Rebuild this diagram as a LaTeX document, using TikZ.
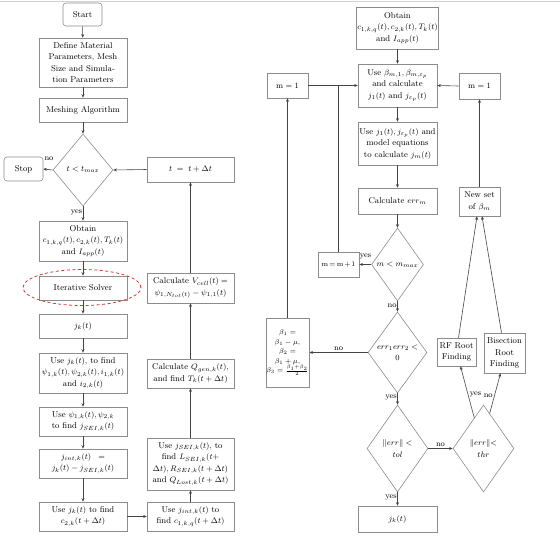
\documentclass[tikz,border=0pt]{standalone}
\usetikzlibrary{shapes.geometric,arrows.meta,calc}
\definecolor{boxc}{HTML}{8C8C8C}
\definecolor{arrc}{HTML}{444444}
\definecolor{ringc}{HTML}{D03A3A}
\begin{document}
\begin{tikzpicture}[x=1pt,y=-1pt,
  font=\fontsize{8.5}{11.5}\selectfont,
  sz/.style n args={2}{minimum width=#1, minimum height=#2},
  box/.style={draw=boxc, line width=0.6pt, rectangle, align=center, inner sep=0.5pt},
  rbox/.style={box, rounded corners=3pt},
  dia/.style={draw=boxc, line width=0.6pt, diamond, inner sep=0pt},
  txt/.style={align=center, inner sep=0pt},
  arr/.style={draw=arrc, line width=0.6pt, -{Stealth[length=3.5pt,width=3pt]}},
  ln/.style={draw=arrc, line width=0.6pt},
  lab/.style={font=\fontsize{8}{9}\selectfont, inner sep=0.5pt}]
\useasboundingbox (0,0) rectangle (560,541);
\draw[gray!35, line width=1pt] (0,1.5) -- (560,1.5);

% ---------- left column ----------
\node[rbox, sz={39}{23}] (start) at (82.5,14.5) {Start};
\node[box, sz={88}{49}] (define) at (83,62.5) {Define Material\\Parameters, Mesh\\Size and Simula-\\tion Parameters};
\node[box, sz={88}{24}] (mesh) at (83,110) {Meshing Algorithm};
\node[dia, sz={60}{72}] (d1) at (83,170) {};
\node[txt] (d1t) at (83,170) {$t < t_{max}$};
\node[rbox, sz={39}{24}] (stop) at (23.5,169) {Stop};
\node[box, sz={87}{25}] (tt) at (190.5,169.5) {$t \;=\; t+\Delta t$};
\node[box, sz={88}{40}] (obtain) at (83,241) {Obtain\\$c_{1,k,q}(t),c_{2,k}(t),T_k(t)$\\and $I_{app}(t)$};
\node[box, sz={88}{24}] (iter) at (83,288) {Iterative Solver};
\node[ellipse, draw=ringc, line width=0.8pt, dash pattern=on 3pt off 2.5pt, sz={118}{36}] (ring) at (82,287.5) {};
\node[box, sz={88}{24}] (jk) at (83,326) {$j_k(t)$};
\node[box, sz={88}{40}] (usejk) at (83,373) {Use $j_k(t)$, to find\\$\psi_{1,k}(t),\psi_{2,k}(t),i_{1,k}(t)$\\and $i_{2,k}(t)$};
\node[box, sz={88}{29}] (usepsi) at (83,421.5) {Use $\psi_{1,k}(t),\psi_{2,k}$\\to find $j_{SEI,k}(t)$};
\node[box, sz={88}{29}] (jint) at (83,463.5) {$j_{int,k}(t)\;\;=$\\$j_k(t)-j_{SEI,k}(t)$};
\node[box, sz={88}{29}] (usec2) at (83,516.5) {Use $j_k(t)$ to find\\$c_{2,k}(t+\Delta t)$};
\node[box, sz={87}{30}] (vcell) at (190.5,288) {Calculate $V_{cell}(t)=$\\$\psi_{1,N_{tot}(t)}-\psi_{1,1}(t)$};
\node[box, sz={87}{29}] (qgen) at (190.5,373.5) {Calculate $Q_{gen,k}(t)$,\\and find $T_k(t+\Delta t)$};
\node[box, sz={87}{52}] (jsei) at (190.5,464) {Use $j_{SEI,k}(t)$, to\\find $L_{SEI,k}(t+$\\$\Delta t),R_{SEI,k}(t+\Delta t)$\\and $Q_{Lost,k}(t+\Delta t)$};
\node[box, sz={87}{29}] (usec1) at (190.5,516.5) {Use $j_{int,k}(t)$ to\\find $c_{1,k,q}(t+\Delta t)$};

\draw[arr] (start) -- (define);
\draw[arr] (define) -- (mesh);
\draw[arr] (mesh) -- (d1.north);
\draw[arr] (d1.west) -- (stop.east);
\node[lab] (nostop) at (49,158.5) {no};
\draw[arr] (tt.west) -- (d1.east);
\draw[arr] (d1.south) -- (obtain.north) node[lab, pos=0.45, left] {yes};
\draw[arr] (obtain) -- (iter);
\draw[arr] (iter) -- (jk);
\draw[arr] (jk) -- (usejk);
\draw[arr] (usejk) -- (usepsi);
\draw[arr] (usepsi) -- (jint);
\draw[arr] (jint) -- (usec2);
\draw[arr] (usec2) -- (usec1);
\draw[arr] (usec1) -- (jsei);
\draw[arr] (jsei) -- (qgen);
\draw[arr] (qgen) -- (vcell);
\draw[arr] (vcell) -- (tt);

% ---------- right part ----------
\node[box, sz={79}{42}] (obtain2) at (397.5,28) {Obtain\\$c_{1,k,q}(t),c_{2,k}(t),T_k(t)$\\and $I_{app}(t)$};
\node[box, sz={79}{43}] (useb) at (397.5,85.5) {Use $\beta_{m,1},\beta_{m,\varepsilon_p}$\\and calculate\\$j_1(t)$ and $j_{\varepsilon_p}(t)$};
\node[box, sz={41}{26}] (m1r) at (479.5,86) {$\mathrm{m}=1$};
\node[box, sz={41}{25}] (m1l) at (287.5,85.5) {$\mathrm{m}=1$};
\node[box, sz={79}{43}] (usej) at (397.5,143.5) {Use $j_1(t),j_{\varepsilon_p}(t)$ and\\model equations\\to calculate $j_m(t)$};
\node[box, sz={79}{26}] (calc) at (397.5,201) {Calculate $err_m$};
\node[dia, sz={52}{73}] (d2) at (397.5,264.5) {};
\node[txt] (d2t) at (397.5,264.5) {$m<m_{max}$};
\node[box, sz={41}{25}, font=\fontsize{7.5}{9}\selectfont] (mm1) at (338.5,264.5) {$\medmuskip=2mu\thickmuskip=3mu\mathrm{m}=\mathrm{m}+1$};
\node[dia, sz={59}{81}] (d3) at (397.5,352.5) {};
\node[txt] (d3t) at (397.5,352.5) {$err_1err_2<$\\$0$};
\node[box, sz={41}{69}, font=\fontsize{7.5}{9.5}\selectfont] (beta) at (287.5,352.5) {$\beta_1=$\\$\beta_1-\mu,$\\$\beta_2=$\\$\beta_1+\mu,$\\$\beta_3=\frac{\beta_1+\beta_2}{2}$};
\node[dia, sz={61}{87}] (d4) at (397.5,448.5) {};
\node[txt] (d4t) at (397.5,448.5) {$\|err\|<$\\$tol$};
\node[dia, sz={61}{87}] (d5) at (483.5,448.5) {};
\node[txt] (d5t) at (483.5,448.5) {$\|err\|{<}$\\$thr$};
\node[box, sz={79}{26}] (jk2) at (397.5,519) {$j_k(t)$};
\node[box, sz={39}{28}] (rf) at (456.5,352) {RF Root\\Finding};
\node[box, sz={41}{40}] (bis) at (504.5,353) {Bisection\\Root\\Finding};
\node[box, sz={41}{29}] (newset) at (479.5,201.5) {New set\\of $\beta_m$};

\draw[arr] (obtain2) -- (useb);
\draw[arr] (useb) -- (usej);
\draw[arr] (usej) -- (calc);
\draw[arr] (calc) -- (d2.north);
\draw[arr] (m1l.east) -- (useb.west);
\draw[ln] (mm1.north) -- (mm1.north |- m1l.east);
\draw[arr] (m1r.west) -- (useb.east);
\draw[arr] (d2.west) -- (mm1.east);
\node[lab] (yesm) at (365.5,257) {yes};
\draw[arr] (d2.south) -- (d3.north) node[lab, pos=0.4, left] {no};
\draw[arr] (d3.west) -- (beta.east) node[lab, pos=0.5, above=1pt] {no};
\draw[arr] (beta.north) -- (m1l.south);
\draw[arr] (d3.south) -- (d4.north) node[lab, pos=0.4, left] {yes};
\draw[arr] (d4.east) -- (d5.west) node[lab, pos=0.5, above=1pt] {no};
\draw[arr] (d4.south) -- (jk2.north) node[lab, pos=0.4, left] {yes};
\coordinate (d5a) at ($(d5.north)!0.3!(d5.west)$);
\coordinate (d5b) at ($(d5.north)!0.2!(d5.east)$);
\draw[arr] (d5a) -- ([xshift=4pt]rf.south) node[lab, pos=0.45, right=1pt] {yes};
\draw[arr] (d5b) -- ([xshift=-4pt]bis.south) node[lab, pos=0.45, left=1pt] {no};
\draw[arr] ([xshift=2pt]rf.north) -- ([xshift=-2.5pt]newset.south);
\draw[arr] ([xshift=-3pt]bis.north) -- ([xshift=2.5pt]newset.south);
\draw[arr] (newset.north) -- (m1r.south);
\end{tikzpicture}
\end{document}
